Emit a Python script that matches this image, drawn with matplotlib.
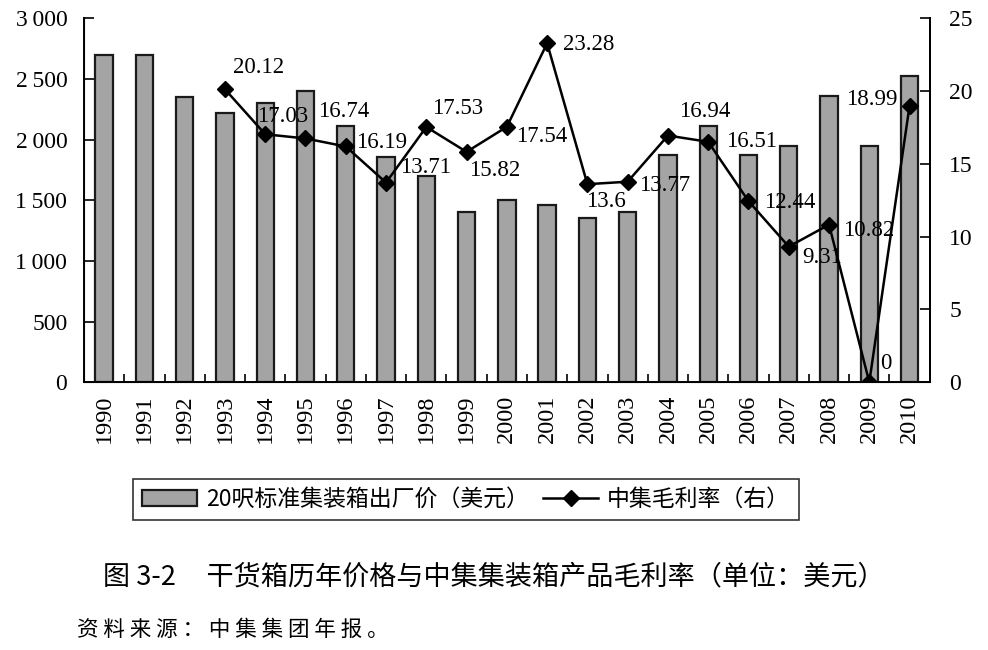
import numpy as np
import matplotlib
matplotlib.use("Agg")
import matplotlib.pyplot as plt
from matplotlib.ticker import FixedLocator, FuncFormatter

plt.rcParams["font.family"] = ["Liberation Serif", "Noto Sans CJK SC"]

years = [str(y) for y in range(1990, 2011)]
price = [2700, 2700, 2350, 2220, 2300, 2400, 2110, 1860, 1700, 1400, 1500,
         1460, 1350, 1400, 1870, 2110, 1870, 1950, 2360, 1950, 2520]
margin_years = years[3:]
margin = [20.12, 17.03, 16.74, 16.19, 13.71, 17.53, 15.82, 17.54, 23.28, 13.6,
          13.77, 16.94, 16.51, 12.44, 9.31, 10.82, 0, 18.99]
# label offsets in pixels (dx, dy-up)
label_off = [(34, 22), (17, 18), (38, 27), (36, 4), (40, 15), (31, 18), (28, -19),
             (35, -10), (42, -1), (19, -17), (37, -4), (37, 24), (43, 0), (41, -1),
             (33, -11), (40, -6), (17, 19), (-38, 6)]

fig = plt.figure(figsize=(9.88, 6.5), dpi=100)
ax = fig.add_axes([0.085, 0.412, 0.856, 0.56])
x = np.arange(len(years))
bars = ax.bar(x, price, width=0.43, color="#a4a4a4", edgecolor="#1a1a1a", linewidth=1.6)
ax.set_xlim(-0.5, len(years) - 0.5)
ax.set_ylim(0, 3000)
ax.set_yticks(range(0, 3001, 500))
ax.yaxis.set_major_formatter(FuncFormatter(lambda v, p: f"{int(v):,}".replace(",", "\u2009")))
ax.set_xticks(x)
ax.set_xticklabels(years, rotation=90, fontsize=17.5)
ax.xaxis.set_minor_locator(FixedLocator(np.arange(0.5, len(years) - 1, 1)))
ax.tick_params(axis="x", which="major", length=0, pad=9)
ax.tick_params(axis="x", which="minor", direction="in", length=6, width=1.2)
ax.tick_params(axis="y", direction="in", length=7, width=1.2, labelsize=17, pad=12)
ax.spines["top"].set_visible(False)
for s in ["left", "bottom", "right"]:
    ax.spines[s].set_linewidth(1.4)

ax2 = ax.twinx()
mx = x[3:]
line, = ax2.plot(mx, margin, color="black", linewidth=1.8, marker="D", markersize=8)
ax2.set_ylim(0, 25)
ax2.set_yticks(range(0, 26, 5))
ax2.tick_params(axis="y", direction="in", length=7, width=1.2, labelsize=17, pad=14)
ax2.spines["top"].set_visible(False)
ax2.spines["right"].set_linewidth(1.4)
for xi, v, (dx, dy) in zip(mx, margin, label_off):
    txt = f"{v:g}"
    ax2.annotate(txt, (xi, v), xytext=(dx * 0.72, dy * 0.72), textcoords="offset points",
                 ha="center", va="center", fontsize=16.5)

leg = fig.legend([bars, line], ["20呎标准集装箱出厂价（美元）", "中集毛利率（右）"],
                 loc="center", bbox_to_anchor=(0.472, 0.232), ncol=2, frameon=True,
                 fancybox=False, edgecolor="black",
                 prop={"family": ["Noto Sans CJK SC"], "size": 16.5},
                 handlelength=2.4, columnspacing=0.6, handletextpad=0.4,
                 borderpad=0.4)
leg.get_frame().set_linewidth(1.2)

fig.text(0.5, 0.112, "图 3-2     干货箱历年价格与中集集装箱产品毛利率（单位：美元）",
         ha="center", va="center", fontsize=19.5, family=["Noto Sans CJK SC"])
fig.text(0.078, 0.031, "资 料 来 源 ： 中 集 集 团 年 报 。", ha="left", va="center",
         fontsize=15.5, family=["Noto Sans CJK SC"])

fig.savefig("out.png", dpi=100)
